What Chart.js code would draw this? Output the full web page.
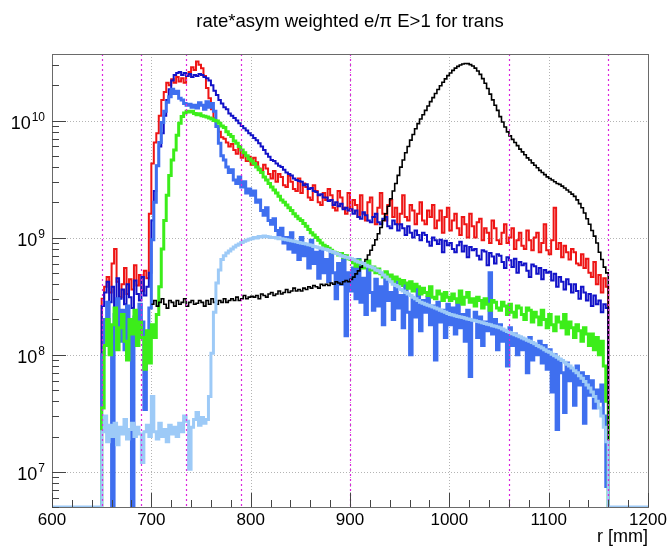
<!DOCTYPE html>
<html>
<head>
<meta charset="utf-8">
<script src="https://cdn.jsdelivr.net/npm/chart.js@4.4.1/dist/chart.umd.min.js"></script>
<style>
  html, body { margin: 0; padding: 0; background: #fff; }
  #wrap { width: 669px; height: 547px; position: relative; }
</style>
</head>
<body>
<div id="wrap"><canvas id="c"></canvas></div>
<script>
// ===== DADOS =====
const chartTitle = 'rate*asym weighted e/\u03c0 E>1 for trans';
const xTitle = 'r [mm]';
const binStart = 650;
const binWidth = 2.5;
const yFloor = 5e6;
const xMin = 600, xMax = 1200;
const yMin = 5e6, yMax = 3.7e10;
const xTickLabels = [600, 700, 800, 900, 1000, 1100, 1200];
const yTickExps = [7, 8, 9, 10];
const cutLines = [650, 690, 735, 790, 900, 1060, 1160];

// bins de 2.5 mm, 650 -> 1160 (uma linha = 25 mm)
const redVals = [
  3.0e8, 3.8e8, 4.6e8, 3.4e8, 6.0e8, 8.0e8, 4.2e8, 3.1e8, 4.0e8, 5.5e8,
  3.3e8, 4.4e8, 3.6e8, 5.8e8, 3.9e8, 4.8e8, 3.5e8, 5.2e8, 4.5e8, 1.6e9,
  4.3e9, 6.5e9, 7.8e9, 1.1e10, 1.5e10, 1.75e10, 2.1e10, 2.0e10, 2.25e10, 2.1e10,
  2.35e10, 2.15e10, 2.3e10, 2.1e10, 2.4e10, 2.6e10, 2.85e10, 2.7e10, 3.2e10, 3.0e10,
  2.8e10, 2.4e10, 1.9e10, 1.55e10, 1.25e10, 1.05e10, 8.8e9, 8.0e9, 7.2e9, 7.0e9,
  6.5e9, 6.0e9, 6.3e9, 5.6e9, 5.2e9, 5.8e9, 4.8e9, 5.2e9, 4.5e9, 4.9e9,
  4.2e9, 4.8e9, 4.4e9, 3.9e9, 3.7e9, 4.2e9, 3.9e9, 3.5e9, 3.2e9, 3.7e9,
  3.0e9, 3.5e9, 3.3e9, 2.8e9, 2.7e9, 3.4e9, 3.0e9, 2.6e9, 2.5e9, 3.2e9,
  2.4e9, 2.9e9, 2.7e9, 2.2e9, 2.1e9, 2.8e9, 2.5e9, 2.0e9, 1.9e9, 2.4e9,
  2.1e9, 2.6e9, 2.3e9, 1.8e9, 1.7e9, 2.5e9, 2.2e9, 1.8e9, 1.6e9, 2.4e9,
  1.7e9, 2.1e9, 1.9e9, 1.5e9, 2.3e9, 1.6e9, 1.4e9, 2.0e9, 2.2e9, 1.5e9,
  1.3e9, 1.8e9, 2.4e9, 1.6e9, 1.4e9, 1.9e9, 2.1e9, 1.5e9, 1.8e9, 1.3e9,
  1.6e9, 2.3e9, 1.5e9, 1.4e9, 1.9e9, 1.7e9, 1.3e9, 1.6e9, 2.0e9, 1.4e9,
  1.3e9, 1.7e9, 1.5e9, 1.9e9, 1.2e9, 1.4e9, 1.7e9, 1.1e9, 1.5e9, 1.8e9,
  1.15e9, 1.4e9, 1.6e9, 1.2e9, 1.05e9, 1.5e9, 1.3e9, 1.0e9, 1.6e9, 1.25e9,
  1.0e9, 1.35e9, 1.45e9, 9.5e8, 1.2e9, 1.1e9, 9.0e8, 1.4e9, 1.2e9, 9.5e8,
  8.8e8, 1.1e9, 1.3e9, 9.0e8, 1.0e9, 1.2e9, 8.0e8, 9.5e8, 1.1e9, 8.5e8,
  8.0e8, 1.15e9, 9.5e8, 7.8e8, 1.0e9, 1.1e9, 7.5e8, 9.0e8, 1.3e9, 7.8e8,
  7.2e8, 9.5e8, 1.8e9, 8.0e8, 9.0e8, 6.8e8, 8.5e8, 7.5e8, 6.5e8, 8.0e8,
  7.5e8, 6.0e8, 5.8e8, 7.2e8, 5.5e8, 6.6e8, 5.0e8, 4.6e8, 6.2e8, 4.0e8,
  4.8e8, 3.4e8, 4.5e8, 3.8e8
];
const darkBlueVals = [
  2.6e8, 3.4e8, 4.2e8, 2.8e8, 3.8e8, 2.4e8, 4.5e8, 3.0e8, 3.6e8, 2.7e8,
  4.0e8, 3.1e8, 2.5e8, 4.3e8, 3.3e8, 2.9e8, 4.6e8, 3.2e8, 3.8e8, 5.0e8,
  1.4e9, 2.5e9, 4.1e9, 6.0e9, 7.8e9, 1.1e10, 1.5e10, 1.85e10, 2.2e10, 2.45e10,
  2.55e10, 2.6e10, 2.45e10, 2.55e10, 2.4e10, 2.5e10, 2.35e10, 2.45e10, 2.4e10, 2.5e10,
  2.45e10, 2.35e10, 2.3e10, 2.2e10, 2.0e10, 1.8e10, 1.65e10, 1.5e10, 1.4e10, 1.3e10,
  1.25e10, 1.15e10, 1.1e10, 1.05e10, 1.0e10, 9.5e9, 9.0e9, 8.6e9, 8.2e9, 7.8e9,
  7.5e9, 7.1e9, 6.8e9, 6.4e9, 6.0e9, 5.6e9, 5.2e9, 4.9e9, 4.6e9, 4.5e9,
  4.3e9, 4.1e9, 4.0e9, 3.8e9, 3.6e9, 3.5e9, 3.4e9, 3.2e9, 3.1e9, 3.05e9,
  3.0e9, 2.8e9, 2.85e9, 2.6e9, 2.65e9, 2.5e9, 2.45e9, 2.3e9, 2.35e9, 2.2e9,
  2.2e9, 2.05e9, 2.1e9, 1.9e9, 2.0e9, 1.85e9, 1.95e9, 1.75e9, 1.8e9, 1.7e9,
  1.75e9, 1.6e9, 1.7e9, 1.5e9, 1.45e9, 1.65e9, 1.55e9, 1.4e9, 1.35e9, 1.5e9,
  1.6e9, 1.35e9, 1.3e9, 1.45e9, 1.5e9, 1.25e9, 1.2e9, 1.4e9, 1.3e9, 1.15e9,
  1.3e9, 1.2e9, 1.05e9, 1.25e9, 1.1e9, 1.0e9, 1.15e9, 1.05e9, 9.5e8, 1.1e9,
  1.05e9, 9.2e8, 8.5e8, 1.0e9, 9.5e8, 8.8e8, 9.6e8, 7.5e8, 9.4e8, 8.6e8,
  9.0e8, 8.0e8, 7.5e8, 8.6e8, 9.2e8, 7.6e8, 8.5e8, 6.8e8, 8.3e8, 7.8e8,
  8.0e8, 7.0e8, 6.5e8, 7.8e8, 7.6e8, 5.8e8, 7.4e8, 6.9e8, 6.0e8, 7.2e8,
  7.0e8, 6.2e8, 5.5e8, 6.8e8, 6.4e8, 5.6e8, 6.6e8, 5.0e8, 6.2e8, 5.8e8,
  6.0e8, 5.2e8, 4.6e8, 5.9e8, 5.7e8, 4.9e8, 5.5e8, 4.4e8, 5.3e8, 5.0e8,
  5.1e8, 4.3e8, 4.9e8, 3.8e8, 4.6e8, 4.2e8, 3.6e8, 4.4e8, 4.0e8, 3.4e8,
  4.0e8, 3.5e8, 3.0e8, 3.8e8, 3.4e8, 2.9e8, 3.3e8, 2.6e8, 3.2e8, 2.7e8,
  2.9e8, 2.3e8, 2.7e8, 2.5e8
];
const azureVals = [
  1.0e8, 2.0e8, 2.8e8, 1.5e8, 5e6, 2.2e8, 3.0e8, 1.3e8, 2.4e8, 1.1e8,
  2.6e8, 1.6e8, 5e6, 2.1e8, 1.4e8, 2.7e8, 1.9e8, 3.4e7, 1.2e8, 2.5e8,
  9.6e8, 2.0e9, 4.1e9, 6.5e9, 9.6e9, 1.2e10, 1.43e10, 1.6e10, 1.85e10, 1.7e10,
  1.78e10, 1.55e10, 1.5e10, 1.4e10, 1.35e10, 1.38e10, 1.3e10, 1.35e10, 1.28e10, 1.42e10,
  1.35e10, 1.25e10, 1.45e10, 1.3e10, 1.4e10, 1.2e10, 8.9e9, 6.4e9, 5.0e9, 4.6e9,
  4.0e9, 3.6e9, 3.8e9, 3.1e9, 2.9e9, 3.3e9, 2.7e9, 3.0e9, 2.4e9, 2.6e9,
  2.3e9, 2.5e9, 2.0e9, 2.1e9, 1.7e9, 1.55e9, 1.8e9, 1.4e9, 1.3e9, 1.45e9,
  1.15e9, 1.05e9, 1.2e9, 9.0e8, 1.0e9, 8.0e8, 1.1e9, 7.5e8, 9.0e8, 6.5e8,
  1.0e9, 7.0e8, 8.5e8, 5.5e8, 9.5e8, 6.0e8, 7.5e8, 4.5e8, 8.0e8, 5.0e8,
  6.5e8, 4.2e8, 7.5e8, 5.0e8, 3.0e8, 6.0e8, 4.0e8, 7.0e8, 1.45e8, 5.0e8,
  3.5e8, 5.5e8, 3.0e8, 6.5e8, 2.8e8, 4.5e8, 2.2e8, 5.5e8, 3.4e8, 2.4e8,
  4.4e8, 2.6e8, 3.8e8, 1.8e8, 5.0e8, 2.9e8, 3.4e8, 2.0e8, 4.2e8, 2.5e8,
  3.2e8, 1.7e8, 4.0e8, 2.3e8, 1.0e8, 3.0e8, 2.1e8, 3.6e8, 1.6e8, 2.9e8,
  2.3e8, 3.1e8, 1.8e8, 2.6e8, 9.0e7, 2.8e8, 1.9e8, 2.4e8, 1.4e8, 2.7e8,
  1.8e8, 2.5e8, 1.5e8, 2.9e8, 1.7e8, 2.2e8, 1.3e8, 2.4e8, 6.5e7, 2.0e8,
  2.3e8, 1.4e8, 2.1e8, 1.2e8, 1.9e8, 1.6e8, 5.0e8, 1.5e8, 2.0e8, 1.1e8,
  1.8e8, 1.3e8, 1.6e8, 8.0e7, 1.7e8, 1.2e8, 1.5e8, 1.0e8, 1.4e8, 1.1e8,
  1.3e8, 7.0e7, 1.4e8, 9.0e7, 1.2e8, 1.0e8, 1.3e8, 8.5e7, 1.2e8, 7.5e7,
  1.1e8, 4.8e7, 1.0e8, 2.3e7, 9.0e7, 7.0e7, 3.2e7, 8.5e7, 6.0e7, 7.5e7,
  3.7e7, 8.0e7, 5.5e7, 7.0e7, 2.6e7, 6.5e7, 4.5e7, 6.0e7, 3.5e7, 5.0e7,
  4.0e7, 5.5e7, 3.0e7, 7.5e6
];
const greenVals = [
  3.5e7, 1.2e8, 2.0e8, 1.0e8, 1.8e8, 2.5e8, 1.1e8, 1.7e8, 2.2e8, 1.3e8,
  9.0e7, 2.0e8, 1.5e8, 2.4e8, 1.2e8, 1.9e8, 1.4e8, 7.5e7, 1.6e8, 8.5e7,
  1.8e8, 1.4e8, 2.2e8, 3.8e8, 8.0e8, 1.4e9, 2.3e9, 3.4e9, 4.6e9, 5.6e9,
  7.5e9, 9.5e9, 1.08e10, 1.16e10, 1.2e10, 1.18e10, 1.2e10, 1.15e10, 1.12e10, 1.14e10,
  1.1e10, 1.09e10, 1.07e10, 1.05e10, 1.03e10, 1.0e10, 9.9e9, 9.5e9, 9.0e9, 8.7e9,
  8.0e9, 7.6e9, 7.3e9, 6.7e9, 6.4e9, 6.0e9, 5.6e9, 5.3e9, 5.0e9, 4.7e9,
  4.5e9, 4.3e9, 4.0e9, 3.8e9, 3.6e9, 3.3e9, 3.1e9, 2.9e9, 2.7e9, 2.55e9,
  2.4e9, 2.25e9, 2.1e9, 2.0e9, 1.9e9, 1.8e9, 1.7e9, 1.6e9, 1.52e9, 1.45e9,
  1.4e9, 1.32e9, 1.25e9, 1.17e9, 1.1e9, 1.05e9, 1.0e9, 9.5e8, 9.0e8, 8.6e8,
  8.4e8, 8.1e8, 7.8e8, 7.5e8, 7.4e8, 7.1e8, 7.3e8, 6.8e8, 7.0e8, 6.6e8,
  6.5e8, 6.1e8, 5.7e8, 6.4e8, 6.0e8, 5.5e8, 5.9e8, 6.3e8, 5.3e8, 5.6e8,
  5.0e8, 5.4e8, 4.9e8, 4.6e8, 5.1e8, 4.5e8, 4.8e8, 4.2e8, 4.6e8, 4.4e8,
  3.9e8, 4.3e8, 4.1e8, 3.7e8, 4.2e8, 3.5e8, 4.0e8, 3.8e8, 3.3e8, 3.7e8,
  3.4e8, 3.2e8, 3.8e8, 3.1e8, 3.0e8, 3.5e8, 3.3e8, 2.9e8, 3.4e8, 3.1e8,
  2.9e8, 3.3e8, 3.0e8, 2.8e8, 3.5e8, 2.7e8, 3.1e8, 3.4e8, 2.8e8, 3.0e8,
  2.6e8, 3.1e8, 2.9e8, 2.5e8, 3.0e8, 2.7e8, 2.4e8, 2.9e8, 2.8e8, 2.5e8,
  2.4e8, 2.8e8, 2.6e8, 2.2e8, 2.7e8, 2.3e8, 2.1e8, 2.6e8, 2.5e8, 2.2e8,
  2.0e8, 2.5e8, 2.4e8, 1.9e8, 2.3e8, 2.1e8, 1.8e8, 2.4e8, 2.0e8, 1.7e8,
  2.2e8, 1.8e8, 1.6e8, 2.1e8, 1.9e8, 1.7e8, 2.2e8, 1.5e8, 1.9e8, 1.7e8,
  1.4e8, 1.8e8, 1.6e8, 1.3e8, 1.7e8, 1.5e8, 1.2e8, 1.5e8, 1.1e8, 1.4e8,
  1.0e8, 1.3e8, 8.0e7, 4.0e7
];
const lightBlueVals = [
  2.2e7, 3.0e7, 1.8e7, 2.5e7, 2.0e7, 2.6e7, 1.7e7, 2.4e7, 2.1e7, 2.8e7,
  1.9e7, 2.3e7, 2.6e7, 2.0e7, 2.4e7, 2.1e7, 1.2e7, 2.2e7, 2.5e7, 2.0e7,
  4.4e7, 2.2e7, 1.9e7, 2.6e7, 2.0e7, 2.3e7, 1.8e7, 2.5e7, 2.1e7, 2.4e7,
  2.0e7, 2.6e7, 2.2e7, 3.0e7, 2.7e7, 1.05e7, 2.4e7, 2.8e7, 3.2e7, 2.5e7,
  2.9e7, 2.6e7, 2.8e7, 4.4e7, 1.03e8, 2.3e8, 4.1e8, 5.3e8, 6.5e8, 7.0e8,
  7.4e8, 7.7e8, 8.0e8, 8.3e8, 8.6e8, 8.8e8, 9.1e8, 9.3e8, 9.5e8, 9.7e8,
  9.8e8, 1.0e9, 9.9e8, 1.02e9, 1.01e9, 1.03e9, 1.02e9, 1.01e9, 1.0e9, 1.0e9,
  9.9e8, 9.8e8, 9.8e8, 9.7e8, 9.6e8, 9.5e8, 9.4e8, 9.3e8, 9.2e8, 9.1e8,
  9.0e8, 8.9e8, 8.8e8, 8.7e8, 8.6e8, 8.4e8, 8.3e8, 8.2e8, 8.1e8, 8.0e8,
  7.9e8, 7.8e8, 7.6e8, 7.5e8, 7.3e8, 7.2e8, 7.0e8, 6.9e8, 6.8e8, 6.7e8,
  6.6e8, 6.5e8, 6.3e8, 6.2e8, 6.1e8, 6.0e8, 5.8e8, 5.7e8, 5.6e8, 5.5e8,
  5.3e8, 5.2e8, 5.0e8, 4.8e8, 4.6e8, 4.4e8, 4.2e8, 4.0e8, 3.9e8, 3.8e8,
  3.6e8, 3.5e8, 3.4e8, 3.3e8, 3.2e8, 3.1e8, 3.0e8, 2.9e8, 2.8e8, 2.75e8,
  2.7e8, 2.65e8, 2.6e8, 2.55e8, 2.5e8, 2.45e8, 2.4e8, 2.35e8, 2.3e8, 2.25e8,
  2.2e8, 2.18e8, 2.15e8, 2.12e8, 2.1e8, 2.08e8, 2.05e8, 2.02e8, 2.0e8, 1.97e8,
  1.95e8, 1.92e8, 1.9e8, 1.87e8, 1.85e8, 1.82e8, 1.8e8, 1.77e8, 1.75e8, 1.72e8,
  1.7e8, 1.66e8, 1.62e8, 1.58e8, 1.55e8, 1.51e8, 1.48e8, 1.45e8, 1.42e8, 1.39e8,
  1.36e8, 1.33e8, 1.3e8, 1.27e8, 1.24e8, 1.2e8, 1.17e8, 1.14e8, 1.1e8, 1.07e8,
  1.05e8, 1.01e8, 9.8e7, 9.5e7, 9.2e7, 8.9e7, 8.6e7, 8.3e7, 8.0e7, 7.7e7,
  7.3e7, 7.0e7, 6.6e7, 6.3e7, 5.9e7, 5.5e7, 5.2e7, 4.8e7, 4.4e7, 4.0e7,
  3.5e7, 3.0e7, 2.4e7, 1.8e7
];
const blackVals = [
  null, null, null, null, null, null, null, null, null, null,
  null, null, null, null, null, null, null, null, null, null,
  2.7e8, 2.9e8, 2.6e8, 2.8e8, 3.0e8, 2.7e8, 2.5e8, 2.9e8, 2.8e8, 2.6e8,
  2.9e8, 2.7e8, 2.8e8, 3.0e8, 2.6e8, 2.8e8, 2.9e8, 2.7e8, 2.75e8, 2.9e8,
  2.8e8, 2.6e8, 2.9e8, 2.7e8, 3.0e8, 2.8e8, 2.7e8, 2.9e8, 2.8e8, 3.0e8,
  2.8e8, 2.9e8, 3.0e8, 2.9e8, 3.1e8, 2.9e8, 3.0e8, 3.2e8, 3.0e8, 3.1e8,
  3.15e8, 3.1e8, 3.2e8, 3.0e8, 3.3e8, 3.2e8, 3.1e8, 3.3e8, 3.4e8, 3.2e8,
  3.3e8, 3.5e8, 3.3e8, 3.4e8, 3.6e8, 3.4e8, 3.5e8, 3.7e8, 3.5e8, 3.6e8,
  3.5e8, 3.7e8, 3.6e8, 3.8e8, 3.7e8, 3.9e8, 3.8e8, 3.7e8, 4.0e8, 3.9e8,
  4.0e8, 3.9e8, 4.1e8, 4.0e8, 4.2e8, 4.1e8, 4.0e8, 4.2e8, 4.3e8, 4.2e8,
  4.4e8, 4.6e8, 4.9e8, 5.2e8, 5.6e8, 6.0e8, 6.5e8, 7.1e8, 7.8e8, 8.6e8,
  9.6e8, 1.08e9, 1.22e9, 1.4e9, 1.6e9, 1.85e9, 2.15e9, 2.5e9, 2.9e9, 3.4e9,
  4.0e9, 4.6e9, 5.3e9, 6.0e9, 6.8e9, 7.6e9, 8.5e9, 9.4e9, 1.03e10, 1.12e10,
  1.22e10, 1.33e10, 1.45e10, 1.57e10, 1.7e10, 1.84e10, 1.98e10, 2.12e10, 2.27e10, 2.42e10,
  2.55e10, 2.68e10, 2.8e10, 2.9e10, 2.98e10, 3.04e10, 3.07e10, 3.06e10, 3.0e10, 2.92e10,
  2.8e10, 2.65e10, 2.48e10, 2.28e10, 2.08e10, 1.88e10, 1.68e10, 1.5e10, 1.35e10, 1.22e10,
  1.08e10, 9.7e9, 8.8e9, 8.0e9, 7.4e9, 6.9e9, 6.5e9, 6.1e9, 5.7e9, 5.4e9,
  5.1e9, 4.8e9, 4.6e9, 4.35e9, 4.15e9, 3.95e9, 3.75e9, 3.6e9, 3.45e9, 3.3e9,
  3.2e9, 3.1e9, 3.0e9, 2.9e9, 2.85e9, 2.75e9, 2.65e9, 2.55e9, 2.45e9, 2.35e9,
  2.25e9, 2.1e9, 1.95e9, 1.8e9, 1.62e9, 1.45e9, 1.3e9, 1.15e9, 1.03e9, 9.0e8,
  7.5e8, 6.5e8, 5.6e8, 5.0e8
];

// ===== HISTOGRAMA EM DEGRAUS =====
function toSteps(vals, rise, fullRange) {
  const pts = [];
  if (fullRange) pts.push({ x: xMin, y: yFloor });
  let first = true;
  vals.forEach((v, i) => {
    if (v === null) return;
    const x = binStart + i * binWidth;
    if (first && rise) pts.push({ x: x, y: yFloor });
    first = false;
    pts.push({ x: x, y: v });
  });
  const end = binStart + vals.length * binWidth;
  pts.push({ x: end, y: yFloor });
  if (fullRange) pts.push({ x: xMax, y: yFloor });
  return pts;
}

function ds(vals, color, width, rise, fullRange) {
  return {
    data: toSteps(vals, rise, fullRange),
    borderColor: color,
    borderWidth: width,
    stepped: true,
    pointRadius: 0,
    fill: false,
    borderJoinStyle: 'miter',
    borderCapStyle: 'butt'
  };
}

const FONT = "'Liberation Sans', Arial, Helvetica, sans-serif";

// ===== EIXOS ESTILO ROOT =====
const rootAxes = {
  id: 'rootAxes',
  beforeDatasetsDraw(chart) {
    const { ctx, chartArea: a, scales: { x, y } } = chart;
    ctx.save();
    ctx.strokeStyle = '#b4b4b4';
    ctx.lineWidth = 1;
    ctx.setLineDash([1, 2]);
    xTickLabels.slice(1, -1).forEach(v => {
      const px = Math.round(x.getPixelForValue(v)) + 0.5;
      ctx.beginPath(); ctx.moveTo(px, a.top); ctx.lineTo(px, a.bottom); ctx.stroke();
    });
    yTickExps.forEach(e => {
      const py = Math.round(y.getPixelForValue(Math.pow(10, e))) + 0.5;
      ctx.beginPath(); ctx.moveTo(a.left, py); ctx.lineTo(a.right, py); ctx.stroke();
    });
    ctx.restore();
  },
  afterDatasetsDraw(chart) {
    const { ctx, chartArea: a, scales: { x, y } } = chart;
    ctx.save();

    // linhas de corte
    ctx.strokeStyle = '#dd22dd';
    ctx.lineWidth = 1.2;
    ctx.setLineDash([2, 3]);
    cutLines.forEach(v => {
      const px = Math.round(x.getPixelForValue(v)) + 0.5;
      ctx.beginPath(); ctx.moveTo(px, a.top); ctx.lineTo(px, a.bottom); ctx.stroke();
    });
    ctx.setLineDash([]);

    // moldura
    ctx.strokeStyle = '#6a6a6a';
    ctx.lineWidth = 1;
    ctx.strokeRect(Math.round(a.left) + 0.5, Math.round(a.top) + 0.5,
      Math.round(a.right - a.left), Math.round(a.bottom - a.top));

    // ticks x
    ctx.strokeStyle = '#444';
    for (let v = xMin; v <= xMax; v += 20) {
      const px = Math.round(x.getPixelForValue(v)) + 0.5;
      const len = (v % 100 === 0) ? 14 : 7;
      ctx.beginPath(); ctx.moveTo(px, a.bottom); ctx.lineTo(px, a.bottom - len); ctx.stroke();
    }
    // ticks y (log)
    for (let e = 6; e <= 10; e++) {
      for (let k = 1; k <= 9; k++) {
        const v = k * Math.pow(10, e);
        if (v < yMin || v > yMax) continue;
        const py = Math.round(y.getPixelForValue(v)) + 0.5;
        const len = k === 1 ? 14 : 7;
        ctx.beginPath(); ctx.moveTo(a.left, py); ctx.lineTo(a.left + len, py); ctx.stroke();
      }
    }

    // rótulos
    ctx.fillStyle = '#000';
    ctx.textBaseline = 'alphabetic';
    ctx.font = '17px ' + FONT;
    ctx.textAlign = 'center';
    xTickLabels.forEach(v => {
      ctx.fillText(String(v), x.getPixelForValue(v), a.bottom + 18);
    });

    yTickExps.forEach(e => {
      const py = y.getPixelForValue(Math.pow(10, e));
      ctx.font = '12px ' + FONT;
      const wExp = ctx.measureText(String(e)).width;
      ctx.font = '18px ' + FONT;
      const wBase = ctx.measureText('10').width;
      const right = a.left - 7;
      ctx.textAlign = 'left';
      ctx.fillText('10', right - wExp - wBase - 1, py + 8.5);
      ctx.font = '12px ' + FONT;
      ctx.fillText(String(e), right - wExp, py);
    });

    // título do eixo x
    ctx.font = '18px ' + FONT;
    ctx.textAlign = 'right';
    ctx.fillText(xTitle, a.right, 542);

    // título
    ctx.font = '18.5px ' + FONT;
    ctx.textAlign = 'center';
    ctx.fillText(chartTitle, (a.left + a.right) / 2, 27);

    ctx.restore();
  }
};

// ===== GRÁFICO =====
new Chart(document.getElementById('c'), {
  type: 'line',
  data: {
    datasets: [
      ds(lightBlueVals, '#9dcaf7', 3, true, true),
      ds(blackVals, '#000000', 1.6, false, false),
      ds(greenVals, '#3ced1a', 3, true, false),
      ds(azureVals, '#3f6fef', 3, true, false),
      ds(darkBlueVals, '#1212c8', 2, true, false),
      ds(redVals, '#ee1515', 2, true, false)
    ]
  },
  options: {
    responsive: true,
    maintainAspectRatio: false,
    animation: false,
    layout: { padding: { left: 52, top: 54, right: 21, bottom: 40 } },
    scales: {
      x: { type: 'linear', min: xMin, max: xMax, display: false },
      y: { type: 'logarithmic', min: yMin, max: yMax, display: false }
    },
    plugins: {
      legend: { display: false },
      tooltip: { enabled: false },
      title: { display: false }
    }
  },
  plugins: [rootAxes]
});
</script>
</body>
</html>
